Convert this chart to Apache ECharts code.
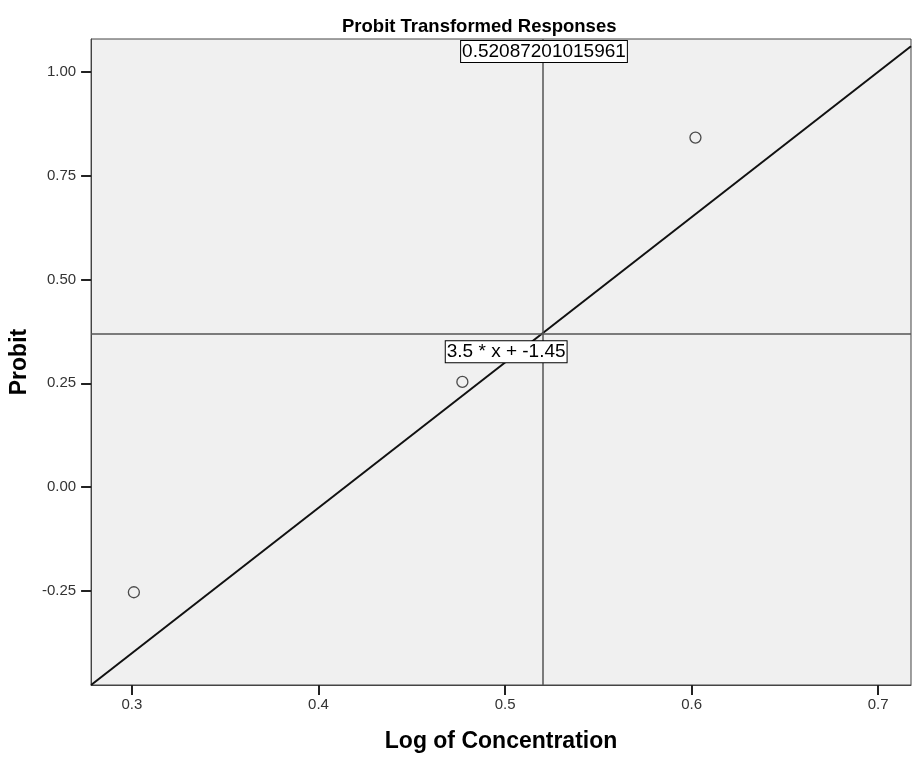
<!DOCTYPE html>
<html>
<head>
<meta charset="utf-8">
<script src="https://cdn.jsdelivr.net/npm/echarts@6/dist/echarts.min.js"></script>
<style>
html,body{margin:0;padding:0;background:#fff;}
#chart{width:912px;height:758px;}
</style>
</head>
<body>
<div id="chart"></div>
<script>
// ---- data ----
const logConcentration = [0.30103, 0.47712, 0.60206];
const probitValues = [-0.2533, 0.2533, 0.8416];
const xTicks = [0.3, 0.4, 0.5, 0.6, 0.7];
const yTicks = [-0.25, 0.00, 0.25, 0.50, 0.75, 1.00];
const xRange = [0.2781, 0.7176];
const yRange = [-0.4766, 1.079];
const fitSlope = 3.5;
const fitIntercept = -1.45;
const refX = 0.52087201015961;
const refXLabel = '0.52087201015961';
const fitLabel = '3.5 * x + -1.45';
const fitLabelPos = [0.5006, 0.3257];
const refXLabelY = 1.049;

const fitLine = xRange.map(x => [x, fitSlope * x + fitIntercept]);
const refY = fitSlope * refX + fitIntercept;
const points = logConcentration.map((x, i) => [x, probitValues[i]]);

const chart = echarts.init(document.getElementById('chart'), null, {renderer: 'canvas'});
const FONT = '"Liberation Sans", Arial, sans-serif';

const boxLabel = {
  show: true,
  position: 'inside',
  color: '#000',
  fontFamily: FONT,
  fontSize: 19,
  lineHeight: 20,
  backgroundColor: '#fff',
  borderColor: '#000',
  borderWidth: 1,
  padding: [1, 1, 0, 1]
};

chart.setOption({
  animation: false,
  backgroundColor: '#fff',
  title: {
    text: 'Probit Transformed Responses',
    left: 337,
    top: 12,
    textStyle: {fontFamily: FONT, fontSize: 18.5, fontWeight: 'bold', color: '#000'}
  },
  grid: {left: 89, right: 1, top: 39, bottom: 69, show: true, backgroundColor: '#f0f0f0', borderColor: '#444', borderWidth: 1},
  xAxis: {
    type: 'value',
    min: xRange[0], max: xRange[1],
    name: 'Log of Concentration',
    nameLocation: 'middle',
    nameGap: 45,
    nameTextStyle: {fontFamily: FONT, fontSize: 23, fontWeight: 'bold', color: '#000'},
    axisLine: {show: true, onZero: false, lineStyle: {color: '#444', width: 1}},
    axisTick: {show: true, length: 10, customValues: xTicks, lineStyle: {color: '#222', width: 2}},
    axisLabel: {customValues: xTicks, fontFamily: FONT, fontSize: 15, color: '#333', margin: 12,
      formatter: v => v.toFixed(1)},
    splitLine: {show: false}
  },
  yAxis: {
    type: 'value',
    min: yRange[0], max: yRange[1],
    name: 'Probit',
    nameLocation: 'middle',
    nameRotate: 90,
    nameGap: 52,
    nameTextStyle: {fontFamily: FONT, fontSize: 23, fontWeight: 'bold', color: '#000'},
    axisLine: {show: true, onZero: false, lineStyle: {color: '#444', width: 1}},
    axisTick: {show: true, length: 10, customValues: yTicks, lineStyle: {color: '#222', width: 2}},
    axisLabel: {customValues: yTicks, fontFamily: FONT, fontSize: 15, color: '#333', margin: 15,
      formatter: v => v.toFixed(2)},
    splitLine: {show: false}
  },
  series: [
    {
      type: 'line',
      data: fitLine,
      symbol: 'none',
      lineStyle: {color: '#111', width: 2},
      z: 3,
      markLine: {
        silent: true,
        symbol: 'none',
        label: {show: false},
        lineStyle: {color: '#555', width: 1.5, type: 'solid'},
        data: [{xAxis: refX}, {yAxis: refY}]
      },
      markPoint: {
        symbol: 'circle',
        symbolSize: 0,
        data: [
          {coord: [refX, refXLabelY], label: Object.assign({}, boxLabel, {formatter: refXLabel})},
          {coord: fitLabelPos, label: Object.assign({}, boxLabel, {formatter: fitLabel})}
        ]
      }
    },
    {
      type: 'scatter',
      data: points,
      symbol: 'circle',
      symbolSize: 11,
      itemStyle: {color: 'rgba(255,255,255,0)', borderColor: '#222', borderWidth: 1.3},
      z: 4
    }
  ]
});
</script>
</body>
</html>
